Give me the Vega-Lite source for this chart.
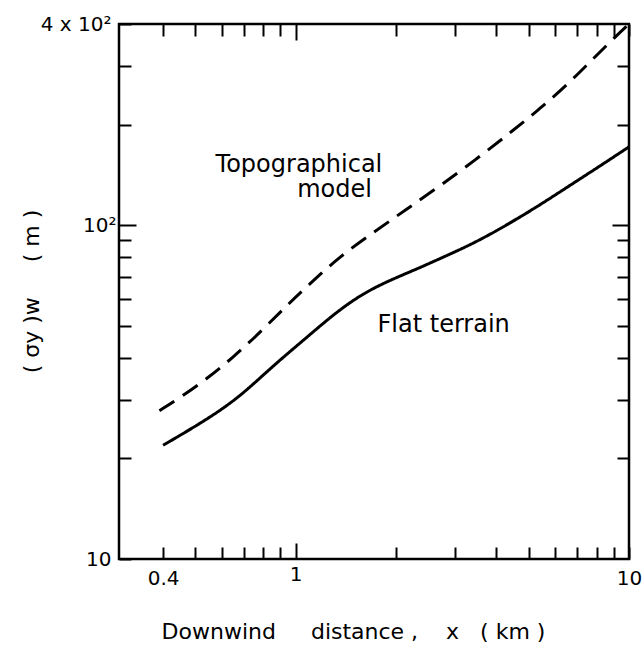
{
  "$schema": "https://vega.github.io/schema/vega-lite/v6.json",
  "width": 510,
  "height": 535,
  "autosize": {"type": "none"},
  "padding": {"left": 119, "top": 24, "right": 15, "bottom": 99},
  "background": "white",
  "config": {
    "view": {"stroke": "black", "strokeWidth": 2.5},
    "font": "DejaVu Sans",
    "axis": {
      "domain": false,
      "grid": false,
      "tickColor": "black",
      "tickWidth": 2,
      "labelColor": "black",
      "titleColor": "black",
      "labelFont": "DejaVu Sans",
      "titleFont": "DejaVu Sans",
      "labelFontSize": 20,
      "titleFontSize": 22,
      "titleFontWeight": "normal",
      "labelOverlap": false,
      "labelFlush": false
    }
  },
  "datasets": {
    "curves": [
      {"series": "Topographical model", "x": 0.39, "y": 27.8},
      {"series": "Topographical model", "x": 0.449, "y": 30.4},
      {"series": "Topographical model", "x": 0.539, "y": 34.5},
      {"series": "Topographical model", "x": 0.648, "y": 40.1},
      {"series": "Topographical model", "x": 0.78, "y": 47.6},
      {"series": "Topographical model", "x": 0.938, "y": 57.3},
      {"series": "Topographical model", "x": 1.1, "y": 66.5},
      {"series": "Topographical model", "x": 1.355, "y": 80.5},
      {"series": "Topographical model", "x": 1.71, "y": 95},
      {"series": "Topographical model", "x": 2.15, "y": 111.5},
      {"series": "Topographical model", "x": 2.71, "y": 131},
      {"series": "Topographical model", "x": 3.5, "y": 158},
      {"series": "Topographical model", "x": 4.49, "y": 192},
      {"series": "Topographical model", "x": 5.4, "y": 223},
      {"series": "Topographical model", "x": 6.5, "y": 262},
      {"series": "Topographical model", "x": 7.81, "y": 315},
      {"series": "Topographical model", "x": 9.19, "y": 370},
      {"series": "Topographical model", "x": 10, "y": 400},
      {"series": "Flat terrain", "x": 0.4, "y": 21.9},
      {"series": "Flat terrain", "x": 0.54, "y": 26.1},
      {"series": "Flat terrain", "x": 0.68, "y": 30.6},
      {"series": "Flat terrain", "x": 0.85, "y": 37.7},
      {"series": "Flat terrain", "x": 1.08, "y": 46.1},
      {"series": "Flat terrain", "x": 1.355, "y": 56.0},
      {"series": "Flat terrain", "x": 1.7, "y": 65.0},
      {"series": "Flat terrain", "x": 2.25, "y": 73},
      {"series": "Flat terrain", "x": 2.84, "y": 81},
      {"series": "Flat terrain", "x": 3.57, "y": 90},
      {"series": "Flat terrain", "x": 4.71, "y": 105.5},
      {"series": "Flat terrain", "x": 5.67, "y": 118.5},
      {"series": "Flat terrain", "x": 7.13, "y": 137.5},
      {"series": "Flat terrain", "x": 8.5, "y": 154},
      {"series": "Flat terrain", "x": 10, "y": 171.5}
    ],
    "labels": [
      {"label": "Topographical", "x": 0.575, "y": 144},
      {"label": "model", "x": 1.01, "y": 121},
      {"label": "Flat terrain", "x": 1.76, "y": 47.7}
    ]
  },
  "layer": [
    {
      "data": {"name": "curves"},
      "mark": {"type": "line", "interpolate": "basis", "strokeWidth": 3, "color": "black"},
      "encoding": {
        "x": {
          "field": "x", "type": "quantitative",
          "scale": {"type": "log", "domain": [0.295, 10], "nice": false},
          "axis": {
            "orient": "bottom",
            "values": [0.4, 0.5, 0.6, 0.7, 0.8, 0.9, 1, 2, 3, 4, 5, 6, 7, 8, 9, 10],
            "labelExpr": "datum.value == 0.4 ? '0.4' : datum.value == 1 ? '1' : datum.value == 10 ? '10' : ''",
            "tickSize": {"condition": {"test": "datum.value == 1", "value": -16}, "value": -12},
            "labelPadding": 21,
            "title": "Downwind\u00a0\u00a0\u00a0\u00a0\u00a0distance\u00a0,\u00a0\u00a0\u00a0\u00a0x\u00a0\u00a0\u00a0(\u00a0km\u00a0)",
            "titleX": 234,
            "titleY": 79,
            "titleBaseline": "alphabetic"
          }
        },
        "y": {
          "field": "y", "type": "quantitative",
          "scale": {"type": "log", "domain": [10, 400], "nice": false},
          "axis": {
            "orient": "left",
            "values": [10, 20, 30, 40, 50, 60, 70, 80, 90, 100, 200, 300, 400],
            "labelExpr": "datum.value == 10 ? '10' : datum.value == 100 ? '10²' : datum.value == 400 ? '4 x 10²' : ''",
            "tickSize": {"condition": {"test": "datum.value == 100", "value": -17}, "value": -12},
            "labelPadding": 20,
            "title": "(\u00a0σy\u00a0)w\u00a0\u00a0\u00a0\u00a0\u00a0(\u00a0m\u00a0)",
            "titleX": -88,
            "titleY": 267,
            "titleBaseline": "middle",
            "titleAngle": -90
          }
        },
        "strokeDash": {
          "field": "series", "type": "nominal",
          "scale": {"domain": ["Topographical model", "Flat terrain"], "range": [[18, 10], [1, 0]]},
          "legend": null
        }
      }
    },
    {
      "data": {"name": "curves"},
      "mark": {"type": "point", "opacity": 0},
      "encoding": {
        "x": {
          "field": "x", "type": "quantitative",
          "axis": {
            "orient": "top",
            "values": [0.4, 0.5, 0.6, 0.7, 0.8, 0.9, 1, 2, 3, 4, 5, 6, 7, 8, 9, 10],
            "labels": false,
            "title": null,
            "tickSize": {"condition": {"test": "datum.value == 1", "value": -16}, "value": -12}
          }
        },
        "y": {
          "field": "y", "type": "quantitative",
          "axis": {
            "orient": "right",
            "values": [20, 30, 40, 50, 60, 70, 80, 90, 100, 200, 300],
            "labels": false,
            "title": null,
            "tickSize": {"condition": {"test": "datum.value == 100", "value": -17}, "value": -12}
          }
        }
      }
    },
    {
      "data": {"name": "labels"},
      "mark": {"type": "text", "align": "left", "baseline": "alphabetic", "fontSize": 24, "font": "DejaVu Sans", "color": "black"},
      "encoding": {
        "x": {"field": "x", "type": "quantitative", "axis": null},
        "y": {"field": "y", "type": "quantitative", "axis": null},
        "text": {"field": "label"}
      }
    }
  ],
  "resolve": {"axis": {"x": "independent", "y": "independent"}}
}
